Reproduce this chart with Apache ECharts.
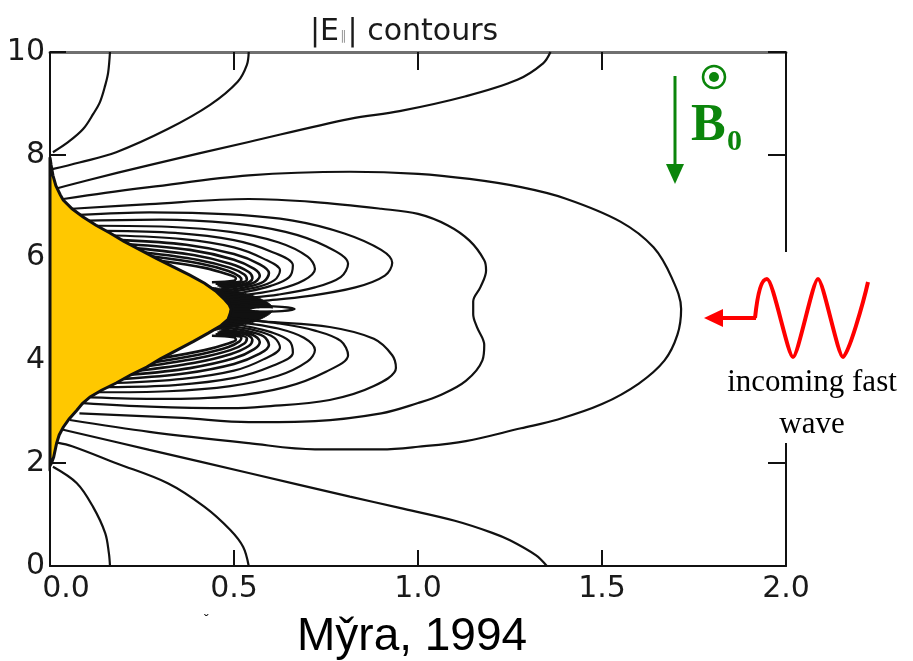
<!DOCTYPE html>
<html>
<head>
<meta charset="utf-8">
<title>|E∥| contours</title>
<script src="https://cdn.jsdelivr.net/npm/echarts@6/dist/echarts.min.js"></script>
<style>
  html, body { margin: 0; padding: 0; background: #fff; }
  #chart { width: 913px; height: 661px; }
</style>
</head>
<body>
<div id="chart"></div>
<script>
'use strict'

// tick labels
var xTickLabels = ['0.0', '0.5', '1.0', '1.5', '2.0'];
var yTickLabels = ['0', '2', '4', '6', '8', '10'];

// yellow region: its edge, top to bottom
var yellowEdge = [
  [0, 7.95], [0.003, 7.8], [0.008, 7.6], [0.016, 7.4], [0.028, 7.22], [0.036, 7.12],
  [0.06, 6.95], [0.09, 6.79], [0.125, 6.63], [0.163, 6.48], [0.2, 6.32], [0.245, 6.15],
  [0.29, 5.98], [0.335, 5.82], [0.38, 5.66], [0.42, 5.5], [0.45, 5.35], [0.475, 5.18],
  [0.487, 5.08], [0.492, 5.0], [0.49, 4.92], [0.484, 4.8], [0.465, 4.68], [0.43, 4.53],
  [0.39, 4.37], [0.345, 4.2], [0.3, 4.03], [0.263, 3.87], [0.22, 3.72], [0.18, 3.56],
  [0.14, 3.42], [0.109, 3.29], [0.088, 3.16], [0.073, 3.03], [0.052, 2.86], [0.036, 2.7],
  [0.025, 2.55], [0.018, 2.39], [0.01, 2.12], [0.004, 2.0], [0, 1.95]
];

// solid black patch just right of the tip, with the small white gap inside it
var tipBlob = [
  [0.4, 5.0], [0.43, 5.4], [0.48, 5.37], [0.52, 5.32], [0.555, 5.25], [0.58, 5.17], [0.6, 5.08],
  [0.605, 5.0], [0.6, 4.92], [0.58, 4.83], [0.555, 4.75], [0.52, 4.68], [0.48, 4.63], [0.43, 4.6]
];
var tipGap = [[0.545, 4.99], [0.575, 5.015], [0.61, 5.01], [0.625, 4.99], [0.6, 4.97], [0.57, 4.968]];
var tipSpike = [[0.5, 5.05], [0.56, 5.06], [0.63, 5.04], [0.665, 5.0], [0.63, 4.96], [0.56, 4.95], [0.5, 4.95]];

// contours that run into the frame
var topLeftArc = [[0.008, 8.05], [0.05, 8.25], [0.09, 8.5], [0.118, 8.8], [0.136, 9.03], [0.15, 9.35], [0.158, 9.6], [0.163, 10]];
var topMidArc = [[0.006, 7.72], [0.08, 7.85], [0.18, 8.05], [0.32, 8.5], [0.435, 8.97], [0.51, 9.42], [0.535, 9.75], [0.54, 10]];
var topLongArc = [[0.02, 7.35], [0.1, 7.5], [0.27, 7.8], [0.54, 8.25], [0.815, 8.7], [0.95, 8.85], [1.13, 9.14], [1.27, 9.46], [1.34, 9.78], [1.36, 10]];
var botLeftArc = [[0.008, 1.93], [0.073, 1.61], [0.117, 1.15], [0.15, 0.64], [0.16, 0.25], [0.163, 0]];
var botMidArc = [[0.02, 2.4], [0.06, 2.33], [0.18, 2.0], [0.32, 1.61], [0.42, 1.15], [0.49, 0.7], [0.525, 0.37], [0.54, 0]];
var botLongArc = [[0.03, 2.66], [0.27, 2.26], [0.54, 1.81], [0.815, 1.35], [0.95, 1.13], [1.1, 0.88], [1.2, 0.65], [1.25, 0.5], [1.32, 0.21], [1.35, 0]];

// the two big loops
var outerLoop = [
  [0.036, 7.14], [0.15, 7.26], [0.27, 7.37], [0.54, 7.6], [0.815, 7.67], [1.0, 7.63], [1.14, 7.53],
  [1.28, 7.37], [1.4, 7.15], [1.55, 6.7], [1.64, 6.2], [1.69, 5.6], [1.715, 5.0], [1.705, 4.5],
  [1.67, 4.0], [1.6, 3.55], [1.5, 3.15], [1.38, 2.85], [1.28, 2.68], [1.13, 2.43], [1.0, 2.32],
  [0.9, 2.27], [0.72, 2.27], [0.54, 2.39], [0.27, 2.61], [0.054, 2.84]
];
var dentLoop = [
  [0.06, 6.95], [0.27, 7.04], [0.54, 7.14], [0.72, 7.08], [0.9, 6.95], [1.0, 6.85], [1.08, 6.63],
  [1.14, 6.33], [1.18, 5.95], [1.185, 5.75], [1.17, 5.43], [1.15, 5.15], [1.15, 4.9], [1.16, 4.65],
  [1.18, 4.3], [1.175, 4.0], [1.13, 3.6], [1.06, 3.32], [1.0, 3.17], [0.9, 2.97], [0.72, 2.82],
  [0.54, 2.8], [0.36, 2.88], [0.08, 2.97]
];

// nested lobes above and below the tip
var upperLobes = [
  [[0.08, 6.83], [0.27, 6.88], [0.49, 6.84], [0.66, 6.72], [0.8, 6.47], [0.9, 6.15], [0.93, 5.9], [0.91, 5.65], [0.83, 5.42], [0.7, 5.25], [0.58, 5.16], [0.49, 5.1]],
  [[0.105, 6.72], [0.3, 6.74], [0.49, 6.67], [0.64, 6.5], [0.75, 6.22], [0.81, 5.88], [0.79, 5.62], [0.72, 5.42], [0.62, 5.28], [0.52, 5.2], [0.485, 5.17]],
  [[0.127, 6.62], [0.32, 6.6], [0.49, 6.5], [0.62, 6.3], [0.7, 6.02], [0.72, 5.78], [0.69, 5.56], [0.62, 5.38], [0.53, 5.27], [0.48, 5.22]],
  [[0.153, 6.52], [0.34, 6.48], [0.5, 6.34], [0.6, 6.12], [0.66, 5.85], [0.65, 5.62], [0.6, 5.45], [0.53, 5.33], [0.478, 5.27]],
  [[0.175, 6.43], [0.36, 6.36], [0.5, 6.2], [0.58, 5.98], [0.625, 5.75], [0.61, 5.56], [0.56, 5.42], [0.475, 5.32]],
  [[0.195, 6.34], [0.37, 6.25], [0.5, 6.07], [0.57, 5.87], [0.595, 5.7], [0.58, 5.53], [0.53, 5.42], [0.47, 5.36]],
  [[0.215, 6.26], [0.38, 6.15], [0.5, 5.96], [0.555, 5.78], [0.57, 5.64], [0.55, 5.5], [0.5, 5.43], [0.465, 5.4]],
  [[0.237, 6.18], [0.39, 6.05], [0.49, 5.88], [0.54, 5.72], [0.55, 5.6], [0.53, 5.49], [0.46, 5.44]],
  [[0.258, 6.1], [0.4, 5.96], [0.49, 5.8], [0.528, 5.67], [0.535, 5.57], [0.51, 5.5], [0.455, 5.46]],
  [[0.28, 6.02], [0.41, 5.88], [0.485, 5.74], [0.515, 5.63], [0.52, 5.56], [0.495, 5.51], [0.45, 5.49]],
  [[0.3, 5.94], [0.42, 5.8], [0.48, 5.68], [0.505, 5.6], [0.5, 5.55], [0.44, 5.52]]
];
var lowerLobes = [
  [[0.09, 3.17], [0.27, 3.1], [0.49, 3.07], [0.58, 3.1], [0.76, 3.23], [0.88, 3.5], [0.94, 3.85], [0.93, 4.1], [0.88, 4.42], [0.76, 4.65], [0.58, 4.76], [0.49, 4.83]],
  [[0.11, 3.28], [0.3, 3.25], [0.49, 3.3], [0.64, 3.48], [0.75, 3.78], [0.81, 4.1], [0.79, 4.38], [0.72, 4.58], [0.62, 4.72], [0.52, 4.8], [0.485, 4.83]],
  [[0.13, 3.38], [0.32, 3.4], [0.49, 3.5], [0.62, 3.7], [0.7, 3.98], [0.72, 4.2], [0.69, 4.44], [0.62, 4.62], [0.53, 4.73], [0.48, 4.78]],
  [[0.155, 3.48], [0.34, 3.52], [0.5, 3.66], [0.6, 3.88], [0.66, 4.15], [0.65, 4.38], [0.6, 4.55], [0.53, 4.67], [0.478, 4.73]],
  [[0.18, 3.56], [0.36, 3.64], [0.5, 3.8], [0.58, 4.02], [0.625, 4.25], [0.61, 4.44], [0.56, 4.58], [0.475, 4.68]],
  [[0.2, 3.64], [0.37, 3.75], [0.5, 3.93], [0.57, 4.13], [0.595, 4.3], [0.58, 4.47], [0.53, 4.58], [0.47, 4.64]],
  [[0.22, 3.72], [0.38, 3.85], [0.5, 4.04], [0.555, 4.22], [0.57, 4.36], [0.55, 4.5], [0.5, 4.57], [0.465, 4.6]],
  [[0.24, 3.8], [0.39, 3.95], [0.49, 4.12], [0.54, 4.28], [0.55, 4.4], [0.53, 4.51], [0.46, 4.56]],
  [[0.26, 3.88], [0.4, 4.04], [0.49, 4.2], [0.528, 4.33], [0.535, 4.43], [0.51, 4.5], [0.455, 4.54]],
  [[0.28, 3.96], [0.41, 4.12], [0.485, 4.26], [0.515, 4.37], [0.52, 4.44], [0.495, 4.49], [0.45, 4.51]],
  [[0.3, 4.04], [0.42, 4.2], [0.48, 4.32], [0.505, 4.4], [0.5, 4.45], [0.44, 4.48]]
];

var ink = '#111';
var green = '#0b850b';
var red = '#ff0000';

function contour(pts, w) {
  return {
    type: 'line',
    data: pts,
    smooth: 0.35,
    showSymbol: false,
    symbol: 'none',
    silent: true,
    z: 3,
    lineStyle: { color: ink, width: w || 2.2 }
  };
}

function patch(pts, fill, z, edge, smooth) {
  return {
    type: 'custom',
    data: [0],
    z: z,
    silent: true,
    renderItem: function (params, api) {
      var points = pts.map(function (p) { return api.coord(p); });
      return {
        type: 'polygon',
        shape: { points: points, smooth: smooth || 0 },
        style: { fill: fill, stroke: edge ? ink : null, lineWidth: edge || 0 }
      };
    }
  };
}

var series = [
  patch(tipBlob, ink, 2, 1, 0.3),
  patch(tipGap, '#fff', 2.5, 0, 0.3),
  patch(yellowEdge, '#ffc800', 4, 3)
];
[topLeftArc, topMidArc, topLongArc, botLeftArc, botMidArc, botLongArc, outerLoop, dentLoop, tipSpike]
  .forEach(function (c) { series.push(contour(c)); });
upperLobes.concat(lowerLobes).forEach(function (c, i) {
  // the inner lobes crowd together into the dark band next to the yellow edge
  series.push(contour(c, (i % upperLobes.length) > 4 ? 2.6 : 2.2));
});

var labelFont = { fontFamily: 'DejaVu Sans', fontSize: 30, color: '#1a1a1a' };

function frameAxis(pos, min, max, interval, lineColor, lineWidth, tickLen) {
  return {
    type: 'value', min: min, max: max, interval: interval, position: pos,
    axisLine: { show: true, onZero: false, lineStyle: { color: lineColor, width: lineWidth } },
    axisTick: { show: true, inside: true, length: tickLen, lineStyle: { color: ink, width: 2 } },
    splitLine: { show: false },
    axisLabel: { show: false }
  };
}

var xBottom = frameAxis('bottom', 0, 2, 0.5, ink, 2, 16);
xBottom.axisLabel = {
  margin: 8,
  fontFamily: labelFont.fontFamily, fontSize: labelFont.fontSize, color: labelFont.color,
  formatter: function (v, i) { return i === 0 ? '{first|' + xTickLabels[0] + '}' : xTickLabels[i]; },
  rich: { first: { fontFamily: 'DejaVu Sans', fontSize: 30, color: '#1a1a1a', padding: [0, 0, 0, 32] } }
};
var xTop = frameAxis('top', 0, 2, 0.5, '#707070', 3, 18);
var yLeft = frameAxis('left', 0, 10, 2, ink, 2, 16);
yLeft.axisLabel = {
  margin: 5,
  fontFamily: labelFont.fontFamily, fontSize: labelFont.fontSize, color: labelFont.color,
  formatter: function (v) { return yTickLabels[Math.round(v / 2)]; }
};
var yRight = frameAxis('right', 0, 10, 2, ink, 2, 18);

var chart = echarts.init(document.getElementById('chart'));
var option = {
  animation: false,
  backgroundColor: '#fff',
  grid: { left: 50, top: 52, right: 127, bottom: 95, outerBoundsMode: 'none' },
  xAxis: [xBottom, xTop],
  yAxis: [yLeft, yRight],
  graphic: [
    {
      type: 'text', x: 310, y: 32, z: 20,
      style: {
        text: '|E{sub|∥}| contours',
        font: '30px "DejaVu Sans"', fill: '#1a1a1a', verticalAlign: 'middle',
        rich: { sub: { fontSize: 13, fontFamily: 'DejaVu Sans', fill: '#9a9a9a', padding: [10, 1, 0, 1] } }
      }
    },
    // white box that hides the right frame behind the wave label
    { type: 'rect', z: 10, shape: { x: 687, y: 252, width: 226, height: 191 }, style: { fill: '#fff' } },

    // B0 direction marker
    { type: 'line', z: 11, shape: { x1: 675, y1: 76, x2: 675, y2: 168 }, style: { stroke: green, lineWidth: 3 } },
    { type: 'polygon', z: 11, shape: { points: [[666, 164], [684, 164], [675, 184]] }, style: { fill: green } },
    { type: 'circle', z: 11, shape: { cx: 714, cy: 77, r: 11 }, style: { fill: 'none', stroke: green, lineWidth: 2.5 } },
    { type: 'circle', z: 11, shape: { cx: 714, cy: 77, r: 5 }, style: { fill: green } },
    { type: 'text', z: 11, x: 691, y: 127, style: { text: 'B', font: 'bold 52px "Liberation Serif"', fill: green, verticalAlign: 'middle' } },
    { type: 'text', z: 11, x: 727, y: 142, style: { text: '0', font: 'bold 30px "Liberation Serif"', fill: green, verticalAlign: 'middle' } },

    // incoming wave
    { type: 'polygon', z: 12, shape: { points: [[704, 318], [723, 309], [723, 327]] }, style: { fill: red } },
    { type: 'line', z: 12, shape: { x1: 720, y1: 318, x2: 756, y2: 318 }, style: { stroke: red, lineWidth: 4 } },
    { type: 'bezierCurve', z: 12, shape: { x1: 755, y1: 318, cpx1: 758, cpy1: 290, cpx2: 762, cpy2: 279, x2: 767, y2: 279 }, style: { stroke: red, lineWidth: 4, fill: 'none' } },
    { type: 'bezierCurve', z: 12, shape: { x1: 767, y1: 279, cpx1: 773, cpy1: 279, cpx2: 788, cpy2: 357, x2: 793, y2: 357 }, style: { stroke: red, lineWidth: 4, fill: 'none' } },
    { type: 'bezierCurve', z: 12, shape: { x1: 793, y1: 357, cpx1: 798, cpy1: 357, cpx2: 813, cpy2: 279, x2: 818, y2: 279 }, style: { stroke: red, lineWidth: 4, fill: 'none' } },
    { type: 'bezierCurve', z: 12, shape: { x1: 818, y1: 279, cpx1: 823, cpy1: 279, cpx2: 838, cpy2: 357, x2: 843, y2: 357 }, style: { stroke: red, lineWidth: 4, fill: 'none' } },
    { type: 'bezierCurve', z: 12, shape: { x1: 843, y1: 357, cpx1: 848, cpy1: 357, cpx2: 864, cpy2: 300, x2: 868, y2: 282 }, style: { stroke: red, lineWidth: 4, fill: 'none' } },
    { type: 'text', z: 12, x: 812, y: 383, style: { text: 'incoming fast', font: '31px "Liberation Serif"', fill: '#000', align: 'center', verticalAlign: 'middle' } },
    { type: 'text', z: 12, x: 812, y: 425, style: { text: 'wave', font: '31px "Liberation Serif"', fill: '#000', align: 'center', verticalAlign: 'middle' } },

    // source
    { type: 'text', z: 12, x: 297, y: 637, style: { text: 'My̌ra, 1994', font: '46px "Liberation Sans"', fill: '#000', verticalAlign: 'middle' } },
    { type: 'text', z: 12, x: 204, y: 621, style: { text: 'ˇ', font: '14px "Liberation Sans"', fill: '#000', verticalAlign: 'middle' } }
  ],
  series: series
};

chart.setOption(option);
window.addEventListener('resize', function () {
  chart.resize();
});
</script>
</body>
</html>
